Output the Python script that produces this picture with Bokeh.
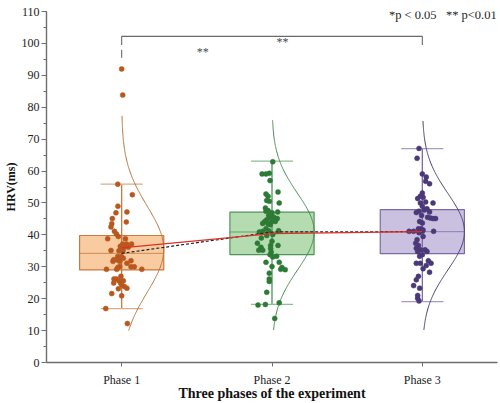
import numpy as np
from bokeh.plotting import figure
from bokeh.models import ColumnDataSource, FixedTicker, SingleIntervalTicker, Label
from bokeh.embed import file_html
from bokeh.resources import INLINE

# ---------------- data ----------------
phases = ["Phase 1", "Phase 2", "Phase 3"]
pos = [1, 2, 3]

q1 = [29.0, 33.8, 34.1]
median = [34.2, 40.9, 41.0]
q3 = [39.8, 47.1, 47.9]
whisk_lo = [16.9, 18.2, 19.1]
whisk_hi = [55.9, 63.1, 67.0]
means = [35.9, 40.4, 41.0]

curve_mu = [35.5, 41.0, 41.0]
curve_sd = [13.5, 12.0, 12.0]
curve_lo = [10.0, 10.2, 10.2]
curve_hi = [77.3, 75.9, 75.7]

p1_y = [55.9, 52.6, 49.0, 47.2, 46.9, 45.1, 44.0, 43.5, 42.5, 41.1,
        40.3, 39.5, 38.8, 38.8, 37.1, 37.1, 37.1, 36.4, 36.1, 36.1,
        35.7, 35.1, 35.0, 35.0, 33.2, 33.2, 32.2, 32.2, 32.7, 31.7,
        31.9, 31.7, 31.1, 30.1, 30.0, 30.0, 29.2, 29.2, 29.2, 29.8,
        27.0, 26.2, 26.2, 25.6, 25.6, 24.9, 24.9, 24.3, 23.8, 23.1,
        23.3, 21.6, 20.9, 16.9, 12.2, 92.0, 83.8]
p1_dx = [-0.026, 0.071, -0.025, 0.035, -0.038, -0.062, 0.031, -0.066, -0.071, -0.048,
         -0.035, -0.022, -0.093, 0.025, 0.007, 0.033, 0.066, -0.009, 0.015, 0.044,
         -0.005, -0.071, 0.009, -0.018, -0.026, -0.002, -0.053, -0.033, 0.011, -0.013,
         0.062, -0.058, 0.035, -0.013, 0.062, 0.084, -0.101, 0.134, -0.033, -0.025,
         -0.005, -0.051, -0.035, -0.018, 0.011, -0.053, -0.007, 0.0, 0.018, -0.022,
         0.035, -0.066, 0.0, -0.106, 0.038, 0.0, 0.007]

p2_y = [62.9, 59.1, 59.1, 59.3, 57.0, 53.4, 52.8, 52.1, 50.8, 50.5,
        50.0, 48.4, 47.4, 47.6, 46.9, 47.2, 46.1, 45.5, 45.5, 45.1,
        44.7, 44.2, 44.2, 44.2, 43.6, 43.4, 43.2, 41.9, 41.3, 41.1,
        40.9, 41.3, 40.1, 39.8, 39.0, 37.4, 36.1, 38.0, 36.7, 36.7,
        35.2, 35.2, 35.7, 34.6, 33.8, 33.3, 33.1, 31.4, 31.4, 30.1,
        29.8, 29.1, 29.2, 28.0, 26.2, 25.4, 22.0, 18.0, 18.2, 18.7, 13.8]
p2_dx = [0.005, -0.066, -0.040, -0.018, -0.013, 0.040, -0.040, -0.026, -0.035, -0.018,
         0.048, -0.044, -0.040, -0.026, 0.0, 0.038, -0.022, -0.013, 0.013, 0.035,
         -0.035, -0.048, -0.002, 0.022, -0.062, -0.026, -0.011, -0.040, -0.022, -0.062,
         -0.084, 0.044, 0.005, -0.035, -0.071, -0.097, -0.073, 0.0, -0.009, 0.040,
         -0.088, -0.062, -0.009, -0.005, -0.013, 0.031, 0.005, -0.040, 0.048, 0.0,
         0.066, 0.088, 0.058, -0.018, -0.018, -0.018, -0.035, -0.093, -0.044, 0.048, 0.018]

p3_y = [67.1, 64.0, 59.1, 58.1, 56.8, 56.0, 53.1, 52.1, 51.8, 51.4,
        50.0, 50.3, 50.0, 49.0, 48.2, 47.8, 47.4, 47.2, 47.0, 46.1,
        45.5, 45.3, 45.1, 45.1, 44.2, 43.7, 41.9, 41.9, 41.5, 41.1,
        41.1, 41.1, 41.1, 40.7, 39.5, 38.5, 37.4, 36.7, 35.8, 35.3,
        35.3, 34.8, 34.8, 33.8, 33.3, 31.1, 31.1, 31.9, 30.4, 31.1,
        29.4, 28.3, 27.0, 25.9, 24.1, 23.3, 21.0, 20.1, 19.3]
p3_dx = [-0.022, -0.035, 0.0, 0.026, 0.022, 0.048, 0.0, -0.013, 0.005, -0.031,
         -0.013, 0.022, 0.071, 0.0, 0.031, 0.013, -0.022, 0.048, -0.040, -0.005,
         0.035, 0.053, 0.071, 0.088, -0.018, 0.0, -0.026, -0.009, 0.005, -0.088,
         -0.058, 0.0, 0.075, -0.022, 0.005, -0.035, -0.044, -0.026, -0.040, -0.013,
         0.018, -0.031, 0.031, 0.0, -0.018, -0.040, -0.013, 0.040, 0.026, 0.058,
         0.005, 0.048, -0.026, -0.040, -0.058, -0.018, -0.031, -0.031, -0.022]

points_y = [p1_y, p2_y, p3_y]
points_dx = [p1_dx, p2_dx, p3_dx]

fill_colors = ["#F9CBA0", "#B5DCB0", "#CAC0E0"]
edge_colors = ["#C97A3C", "#4E9358", "#7A6CA2"]
cap_colors = ["#D9AE88", "#8CBF92", "#A79BC4"]
dot_colors = ["#B8571E", "#2C7A36", "#4A3878"]
curve_colors = ["#B8763F", "#4F8A57", "#4C4076"]

# significance annotations
sig_bracket_y = 102.2
sig_leg_bottom = 99.5
sig_extra_leg = (98.0, 95.5)
sig_text = [("**", 2.07, 100.4), ("**", 1.54, 97.4)]
legend_text = "*p < 0.05\u00a0\u00a0\u00a0** p<0.01"
x_title = "Three phases of the experiment"
y_title = "HRV(ms)"

FONT = "Liberation Serif"
BOX_W = 0.56
X_END = 3.5

# ---------------- figure ----------------
p = figure(width=500, height=403, x_range=(0.5, X_END), y_range=(0, 110),
           output_backend="svg", toolbar_location=None,
           min_border_left=43, min_border_right=3, min_border_top=11, min_border_bottom=40)
p.grid.visible = False
p.outline_line_color = None
p.background_fill_color = "white"

# boxes
p.vbar(x=pos, width=BOX_W, bottom=q1, top=q3, fill_color=fill_colors,
       line_color=edge_colors, line_width=1.2, fill_alpha=1.0)

# whiskers (vertical center lines)
p.segment(x0=pos, y0=whisk_lo, x1=pos, y1=whisk_hi, line_color=edge_colors, line_width=1.3)
# caps
p.segment(x0=[x - BOX_W / 4 for x in pos], y0=whisk_lo, x1=[x + BOX_W / 4 for x in pos],
          y1=whisk_lo, line_color=cap_colors, line_width=1.3)
p.segment(x0=[x - BOX_W / 4 for x in pos], y0=whisk_hi, x1=[x + BOX_W / 4 for x in pos],
          y1=whisk_hi, line_color=cap_colors, line_width=1.3)
# medians
p.segment(x0=[x - BOX_W / 2 for x in pos], y0=median, x1=[x + BOX_W / 2 for x in pos],
          y1=median, line_color=edge_colors, line_width=1.0, line_alpha=0.8)

# normal distribution curves
for i, x in enumerate(pos):
    yy = np.linspace(curve_lo[i], curve_hi[i], 200)
    xx = x + (BOX_W / 2) * np.exp(-((yy - curve_mu[i]) ** 2) / (2 * curve_sd[i] ** 2))
    p.line(xx, yy, line_color=curve_colors[i], line_width=1.0)

# jittered points
for i, x in enumerate(pos):
    src = ColumnDataSource(dict(x=[x + d for d in points_dx[i]], y=points_y[i]))
    p.scatter("x", "y", source=src, size=5, fill_color=dot_colors[i],
              line_color=dot_colors[i], line_width=0.5)

# median (dashed black) and mean (red) connecting lines
p.line(pos, median, line_color="#222222", line_width=1.2, line_dash="3 2")
p.line(pos, means, line_color="#E0302A", line_width=1.2)

# significance bracket
p.line([1, 1, 3, 3], [sig_leg_bottom, sig_bracket_y, sig_bracket_y, sig_leg_bottom],
       line_color="#6a6a6a", line_width=1.1)
p.segment(x0=[1], y0=[sig_extra_leg[0]], x1=[1], y1=[sig_extra_leg[1]],
          line_color="#6a6a6a", line_width=1.1)
for t, tx, ty in sig_text:
    p.add_layout(Label(x=tx, y=ty, text=t, text_font=FONT, text_font_size="12px",
                       text_color="#4a4a4a", text_align="center", text_baseline="middle"))

p.add_layout(Label(x=3.495, y=109.0, text=legend_text, text_font=FONT,
                   text_font_size="12.5px", text_color="#222222",
                   text_align="right", text_baseline="middle"))

# axes
for ax in (p.xaxis[0], p.yaxis[0]):
    ax.axis_line_color = "#6e6e6e"
    ax.axis_line_width = 1.4
    ax.major_tick_line_color = "#6e6e6e"
    ax.minor_tick_line_color = "#6e6e6e"
    ax.major_tick_in = 0
    ax.minor_tick_in = 0
    ax.major_label_text_font = FONT
    ax.major_label_text_font_size = "12px"
    ax.major_label_text_color = "#222222"
    ax.axis_label_text_font = FONT
    ax.axis_label_text_font_style = "bold"
    ax.axis_label_text_color = "#111111"

p.xaxis.ticker = FixedTicker(ticks=pos)
p.xaxis.major_label_overrides = {1: phases[0], 2: phases[1], 3: phases[2]}
p.xaxis.minor_tick_line_color = None
p.xaxis.major_tick_out = 4
p.xaxis.major_label_standoff = 6
p.xaxis.axis_label = x_title
p.xaxis.axis_label_text_font_size = "14px"
p.xaxis.axis_label_standoff = -4

p.yaxis.ticker = SingleIntervalTicker(interval=10, num_minor_ticks=2)
p.yaxis.major_tick_out = 5
p.yaxis.minor_tick_out = 3
p.yaxis.major_label_standoff = 2
p.yaxis.axis_label = y_title
p.yaxis.axis_label_text_font_size = "12px"
p.yaxis.axis_label_standoff = 1

open("out.html", "w").write(file_html(p, INLINE))
